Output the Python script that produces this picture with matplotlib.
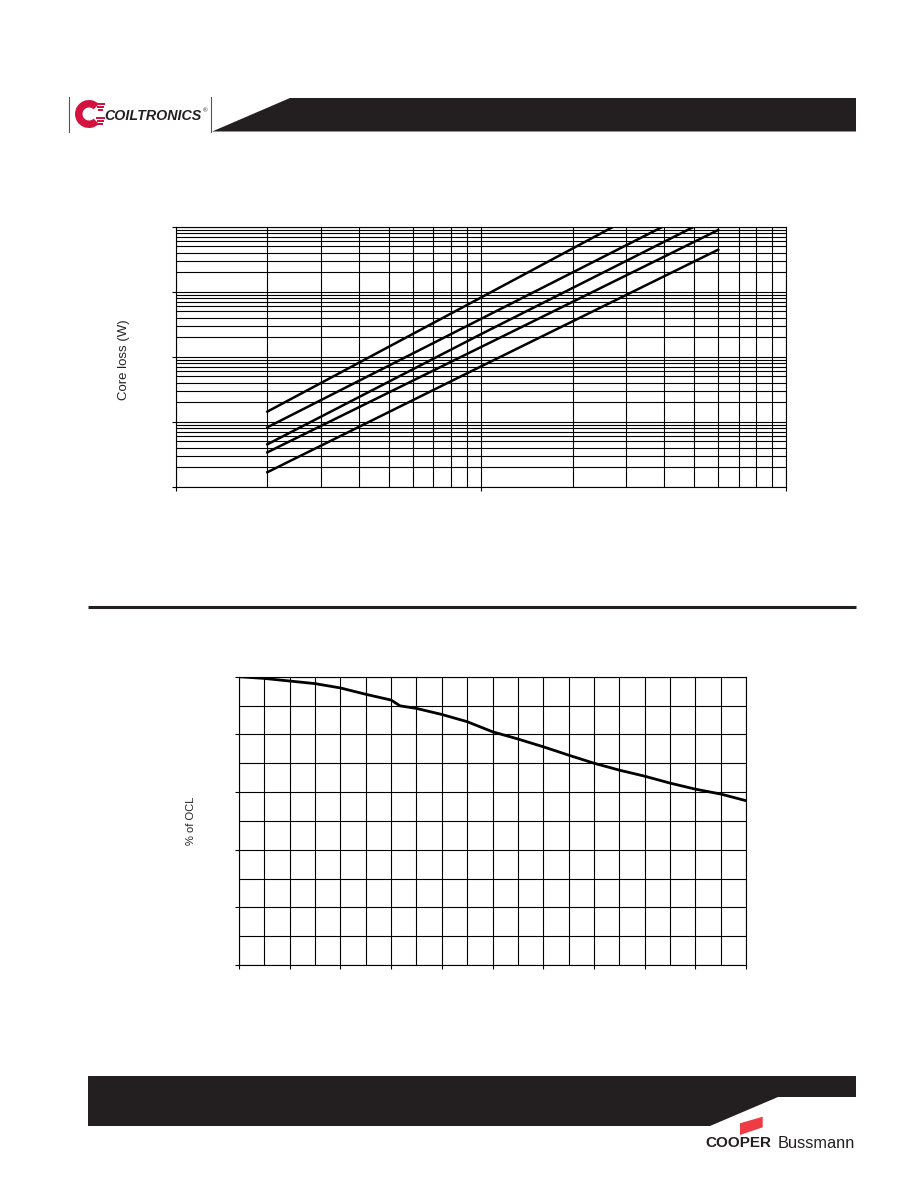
"""Datasheet page: core loss curves (log-log) and % of OCL vs current."""

import matplotlib

matplotlib.use("Agg")
import matplotlib.pyplot as plt
from matplotlib.patches import Polygon, Wedge, Rectangle
from matplotlib.ticker import LogLocator, MultipleLocator, NullFormatter

plt.rcParams["font.family"] = ["Liberation Sans", "DejaVu Sans"]

# ---------- data ----------

# core loss curves (top chart), one per trace, top to bottom
loss_a_x = [20, 100, 272]
loss_a_y = [0.0143, 0.809, 10.0]
loss_b_x = [20, 100, 395]
loss_b_y = [0.0082, 0.380, 10.0]
loss_c_x = [20, 100, 500]
loss_c_y = [0.00449, 0.221, 10.0]
loss_d_x = [20, 100, 600]
loss_d_y = [0.00338, 0.140, 8.9]
loss_e_x = [20, 100, 600]
loss_e_y = [0.00167, 0.0705, 4.43]

# inductance roll-off (bottom chart)
ocl_x = [0, 1, 2, 3, 4, 5, 6, 6.35, 7, 8, 9, 10, 11, 12, 13, 14, 15, 16, 17, 18, 19, 20]
ocl_pct = [100, 99.4, 98.5, 97.6, 96.1, 93.9, 91.9, 89.9, 89.0, 86.9, 84.4, 80.9,
           78.4, 75.7, 72.8, 70.0, 67.6, 65.5, 63.1, 61.0, 59.3, 57.0]

W, H = 918, 1188
RED = "#d3123f"
INK = "#231f20"


def _box(left, top, right, bottom):
    """Pixel box -> figure fraction rect."""
    return [left / W, 1 - bottom / H, (right - left) / W, (bottom - top) / H]


fig = plt.figure(figsize=(W / 100, H / 100), dpi=100)

# ---------- page decorations (pixel coordinates) ----------
page = fig.add_axes([0, 0, 1, 1])
page.set_xlim(0, W)
page.set_ylim(H, 0)
page.axis("off")

# header
page.plot([69, 69], [97, 132], color="#555555", lw=0.8)
page.plot([211, 211], [97, 132], color="#555555", lw=0.8)
page.add_patch(Polygon([(211, 132), (290, 98), (856, 98), (856, 131.5), (211, 131.5)],
                       closed=True, color=INK, lw=0))
page.add_patch(Wedge((89, 114), 14, 45, 315, width=7.5, color=RED, lw=0))
for i, yy in enumerate([104, 107, 110, 118, 121, 124]):
    page.add_patch(Rectangle((96 + (i % 3), yy - 1), 9 - (i % 3) * 2, 1.6, color=RED, lw=0))
page.text(104, 116.5, "COILTRONICS", fontsize=10.3, fontweight="bold", fontstyle="italic",
          color=INK, ha="left", va="center")
page.text(203, 111, "®", fontsize=4.5, color=INK, ha="left", va="center")

# separator between the charts
page.plot([88, 856], [607, 607], color=INK, lw=2.2, solid_capstyle="butt")

# footer
page.add_patch(Polygon([(88, 1076), (856, 1076), (856, 1097), (778, 1097), (710, 1126), (88, 1126)],
                       closed=True, color=INK, lw=0))
page.add_patch(Polygon([(740, 1123.3), (762.7, 1116.7), (762.7, 1127.3), (740, 1135)],
                       closed=True, color="#ee3b44", lw=0))
page.text(705, 1143, "COOPER", fontsize=11, fontweight="bold", color=INK, ha="left", va="center")
page.text(778, 1143, "Bussmann", fontsize=11.8, color=INK, ha="left", va="center")

# ---------- top chart: core loss ----------
ax1 = fig.add_axes(_box(175.5, 226.7, 785.9, 486.7))
for xs, ys in [(loss_a_x, loss_a_y), (loss_b_x, loss_b_y), (loss_c_x, loss_c_y),
               (loss_d_x, loss_d_y), (loss_e_x, loss_e_y)]:
    ax1.plot(xs, ys, color="black", lw=1.8, zorder=3)
ax1.set_xscale("log")
ax1.set_yscale("log")
ax1.set_xlim(10, 1000)
ax1.set_ylim(1e-3, 10)
ax1.xaxis.set_minor_locator(LogLocator(base=10, subs=range(2, 10)))
ax1.yaxis.set_minor_locator(LogLocator(base=10, subs=range(2, 10)))
ax1.xaxis.set_major_formatter(NullFormatter())
ax1.yaxis.set_major_formatter(NullFormatter())
ax1.xaxis.set_minor_formatter(NullFormatter())
ax1.yaxis.set_minor_formatter(NullFormatter())
ax1.grid(True, which="both", color="black", lw=0.8)
ax1.tick_params(which="major", direction="out", length=3, width=0.8)
ax1.tick_params(which="minor", length=0)
for sp in ax1.spines.values():
    sp.set_linewidth(0.8)
fig.text(124 / W, 1 - 360 / H, "Core loss (W)", rotation=90, fontsize=9.5,
         ha="center", va="center", color="#222222")

# ---------- bottom chart: % of OCL ----------
ax2 = fig.add_axes(_box(239, 676.7, 746, 965))
ax2.plot(ocl_x, ocl_pct, color="black", lw=2.0, zorder=3)
ax2.set_xlim(0, 20)
ax2.set_ylim(0, 100)
ax2.xaxis.set_major_locator(MultipleLocator(2))
ax2.xaxis.set_minor_locator(MultipleLocator(1))
ax2.yaxis.set_major_locator(MultipleLocator(20))
ax2.yaxis.set_minor_locator(MultipleLocator(10))
ax2.xaxis.set_major_formatter(NullFormatter())
ax2.yaxis.set_major_formatter(NullFormatter())
ax2.grid(True, which="both", color="black", lw=0.8)
ax2.tick_params(which="major", direction="out", length=3, width=0.8)
ax2.tick_params(which="minor", length=0)
for sp in ax2.spines.values():
    sp.set_linewidth(0.8)
fig.text(191 / W, 1 - 821 / H, "% of OCL", rotation=90, fontsize=8,
         ha="center", va="center", color="#222222")

fig.savefig("out.png", dpi=100)
